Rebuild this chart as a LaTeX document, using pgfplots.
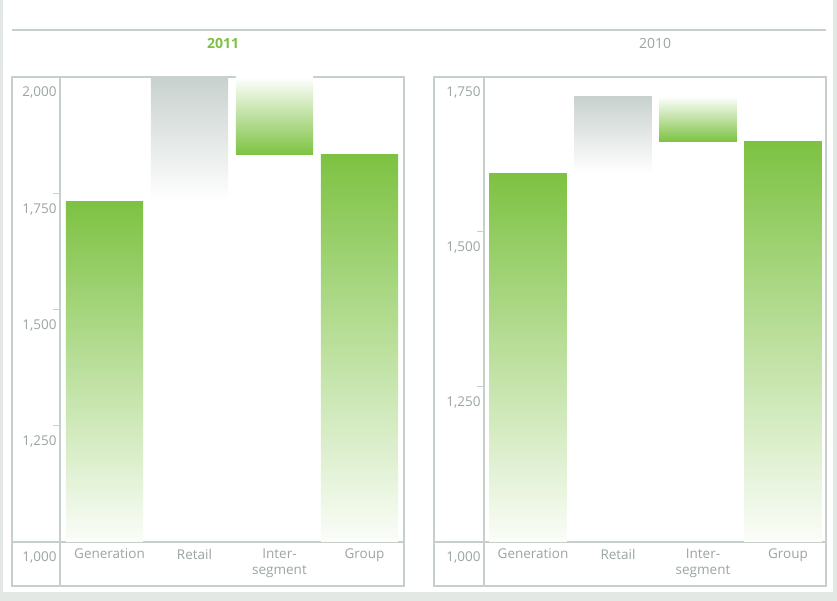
\documentclass[border=0pt]{standalone}
\usepackage{pgfplots}
\pgfplotsset{compat=1.18}
\usepackage{fontspec}
\setmainfont{Open Sans}
\definecolor{bg}{HTML}{E3E8E5}
\definecolor{frame}{HTML}{C7CFCB}
\definecolor{txt}{HTML}{9AA6A1}
\definecolor{grn}{HTML}{7DC242}
\definecolor{gbar}{HTML}{C8D1CD}
\pgfplotsset{panel/.style={
  scale only axis, height=465pt, anchor=south west,
  ymin=1000,
  axis line style={draw=none},
  xtick={0,1,2,3}, xticklabels={Generation,Retail,{Inter-\\segment},Group},
  xtick style={draw=none},
  xticklabel style={align=center, font=\fontsize{13.5}{16}\selectfont, text=txt, xshift=5pt, yshift=3.5pt},
  ytick pos=left, tick align=outside, major tick length=7pt,
  ytick style={color=frame, line width=1pt},
  yticklabel style={anchor=north east, xshift=7pt, yshift=-6.5pt, font=\fontsize{13.5}{15}\selectfont, text=txt},
  /pgf/number format/1000 sep={,},
  /pgf/number format/assume math mode=true,
}}
\begin{document}
\begin{tikzpicture}[x=1pt,y=1pt]
\fill[bg] (0,0) rectangle (837,601);
\fill[white] (3,9) rectangle (833,601);
\draw[frame, line width=1.5pt] (12,571) -- (826,571);
\node[font=\fontsize{14}{15}\selectfont\bfseries, text=grn] at (223,557) {2011};
\node[font=\fontsize{14}{15}\selectfont, text=txt] at (655,557) {2010};
% left panel frame
\draw[frame, line width=1.3pt] (12,15) rectangle (404,524);
\draw[frame, line width=1.3pt] (60,15) -- (60,524);
\draw[frame, line width=1.3pt] (12,59) -- (404,59);
% right panel frame
\draw[frame, line width=1.3pt] (434,15) rectangle (826,524);
\draw[frame, line width=1.3pt] (484,15) -- (484,524);
\draw[frame, line width=1.3pt] (434,59) -- (826,59);

\begin{axis}[panel, at={(60pt,59pt)}, width=344pt,
  xmin=-0.5235, xmax=3.5235, ymax=2000,
  ytick={1000,1250,1500,1750,2000}]
% Generation 2011
\addplot[draw=none, top color=grn, bottom color=grn!3] coordinates {(-0.453,1000) (0.453,1000) (0.453,1733) (-0.453,1733)} -- cycle;
% Retail 2011
\addplot[draw=none, top color=gbar, bottom color=white] coordinates {(0.547,1733) (1.453,1733) (1.453,2000) (0.547,2000)} -- cycle;
% Inter-segment 2011
\addplot[draw=none, top color=white, bottom color=grn] coordinates {(1.547,1833) (2.453,1833) (2.453,2000) (1.547,2000)} -- cycle;
% Group 2011
\addplot[draw=none, top color=grn, bottom color=grn!3] coordinates {(2.547,1000) (3.453,1000) (3.453,1833) (2.547,1833)} -- cycle;
\end{axis}

\begin{axis}[panel, at={(484pt,59pt)}, width=342pt,
  xmin=-0.518, xmax=3.506, ymax=1750,
  ytick={1000,1250,1500,1750}]
% Generation 2010
\addplot[draw=none, top color=grn, bottom color=grn!3] coordinates {(-0.458,1000) (0.458,1000) (0.458,1595) (-0.458,1595)} -- cycle;
% Retail 2010
\addplot[draw=none, top color=gbar, bottom color=white] coordinates {(0.542,1595) (1.458,1595) (1.458,1719) (0.542,1719)} -- cycle;
% Inter-segment 2010
\addplot[draw=none, top color=white, bottom color=grn] coordinates {(1.542,1646) (2.458,1646) (2.458,1719) (1.542,1719)} -- cycle;
% Group 2010
\addplot[draw=none, top color=grn, bottom color=grn!3] coordinates {(2.542,1000) (3.458,1000) (3.458,1646) (2.542,1646)} -- cycle;
\end{axis}
\end{tikzpicture}
\end{document}
